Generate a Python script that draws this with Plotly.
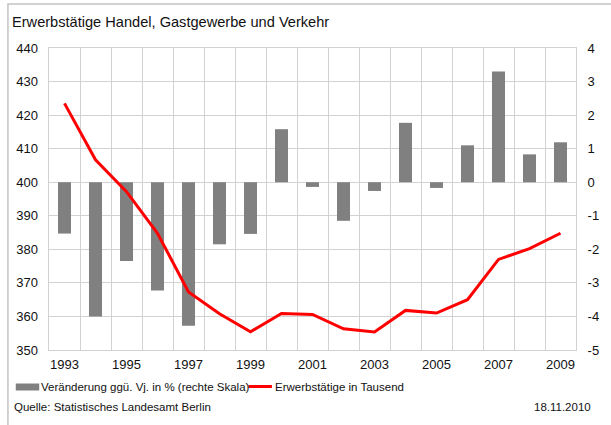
import plotly.graph_objects as go

# Erwerbstätige in Handel, Gastgewerbe und Verkehr (Berlin)
years = [1993, 1994, 1995, 1996, 1997, 1998, 1999, 2000, 2001,
         2002, 2003, 2004, 2005, 2006, 2007, 2008, 2009]
employed_thousands = [423.5, 406.7, 397.2, 384.8, 367.3, 360.8, 355.4, 360.9, 360.6,
                      356.3, 355.4, 361.8, 361.0, 365.0, 377.0, 380.2, 384.8]
change_pct = [-1.53, -4.0, -2.35, -3.23, -4.28, -1.85, -1.54, 1.58, -0.14,
              -1.15, -0.26, 1.77, -0.17, 1.10, 3.30, 0.83, 1.19]
year_ticks = [1993, 1995, 1997, 1999, 2001, 2003, 2005, 2007, 2009]
left_ticks = list(range(350, 441, 10))
right_ticks = list(range(-5, 5))

title_text = "Erwerbstätige Handel, Gastgewerbe und Verkehr"
bar_name = "Veränderung ggü. Vj. in % (rechte Skala)"
line_name = "Erwerbstätige in Tausend"
source_text = "Quelle: Statistisches Landesamt Berlin"
date_text = "18.11.2010"

FONT = "Liberation Sans, Arial, sans-serif"
GRID = "#d2d2d2"
BAR = "#808080"
RED = "#ff0000"
W, H = 611, 425
ML, MR, MT, MB = 49, 23, 48, 75
PW, PH = W - ML - MR, H - MT - MB


def px(x):
    return (x - ML) / PW


def py(y):
    return (H - MB - y) / PH


fig = go.Figure()
fig.add_trace(go.Bar(x=years, y=change_pct, name=bar_name, marker_color=BAR,
                     marker_line_width=0, width=0.42, yaxis="y", showlegend=False))
fig.add_trace(go.Scatter(x=years, y=employed_thousands, name=line_name, mode="lines",
                         line=dict(color=RED, width=3), yaxis="y2", showlegend=False))

fig.update_layout(
    width=W, height=H,
    margin=dict(l=ML, r=MR, t=MT, b=MB),
    paper_bgcolor="white", plot_bgcolor="white",
    font=dict(family=FONT, size=13, color="#111111"),
    xaxis=dict(range=[1992.5, 2009.5], tickvals=year_ticks,
               ticktext=[str(y) for y in year_ticks],
               showgrid=False, zeroline=False,
               showline=True, linecolor=GRID, linewidth=1, mirror=True,
               ticks="", ticklabelstandoff=2,
               minor=dict(tick0=1992.5, dtick=1, showgrid=True,
                          gridcolor=GRID, gridwidth=1)),
    yaxis=dict(side="right", range=[-5, 4], tickvals=right_ticks,
               ticktext=[str(v) for v in right_ticks],
               showgrid=True, gridcolor=GRID, gridwidth=1, zeroline=False,
               showline=True, linecolor=GRID, linewidth=1, mirror=True,
               ticks="", ticklabelstandoff=8),
    yaxis2=dict(side="left", overlaying="y", range=[350, 440], tickvals=left_ticks,
                ticktext=[str(v) for v in left_ticks],
                showgrid=False, zeroline=False, ticks="", ticklabelstandoff=10),
    showlegend=False,
)

# outer frame of the chart
fig.add_shape(type="rect", xref="paper", yref="paper",
              x0=px(7), x1=px(640), y0=py(440), y1=py(4),
              line=dict(color="#c4c4c4", width=1.5), fillcolor="rgba(0,0,0,0)",
              layer="below")

# title
fig.add_annotation(xref="paper", yref="paper", x=px(9), y=py(22),
                   xanchor="left", yanchor="middle", showarrow=False,
                   text=title_text, font=dict(size=14.6, color="#111111"))

# legend swatches and labels
fig.add_shape(type="rect", xref="paper", yref="paper",
              x0=px(15), x1=px(39), y0=py(390.5), y1=py(383.5),
              line=dict(width=0), fillcolor=BAR)
fig.add_annotation(xref="paper", yref="paper", x=px(39), y=py(386.5),
                   xanchor="left", yanchor="middle", showarrow=False,
                   text=bar_name, font=dict(size=11.5, color="#111111"))
fig.add_shape(type="line", xref="paper", yref="paper",
              x0=px(253), x1=px(277), y0=py(386.5), y1=py(386.5),
              line=dict(color=RED, width=3))
fig.add_annotation(xref="paper", yref="paper", x=px(278), y=py(386.5),
                   xanchor="left", yanchor="middle", showarrow=False,
                   text=line_name, font=dict(size=11.5, color="#111111"))

# source and date
fig.add_annotation(xref="paper", yref="paper", x=px(11), y=py(407),
                   xanchor="left", yanchor="middle", showarrow=False,
                   text=source_text, font=dict(size=11.5, color="#111111"))
fig.add_annotation(xref="paper", yref="paper", x=px(605), y=py(407),
                   xanchor="right", yanchor="middle", showarrow=False,
                   text=date_text, font=dict(size=11.5, color="#111111"))

fig.write_html("out.html")
